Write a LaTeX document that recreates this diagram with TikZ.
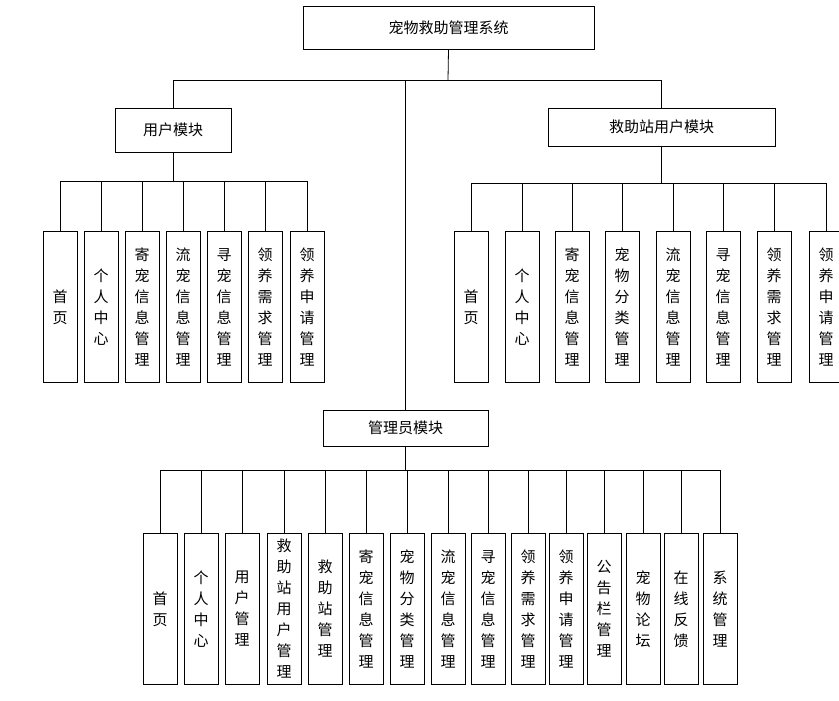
\documentclass[tikz,border=0pt]{standalone}
\usepackage{fontspec}
\newfontfamily\cjk{Noto Sans CJK SC}
\begin{document}
\begin{tikzpicture}[x=1pt,y=-1pt,line width=0.8pt,
  hbox/.style={draw,font=\cjk\fontsize{15}{18}\selectfont,inner sep=0pt},
  vbox/.style={draw,font=\cjk\fontsize{15}{21}\selectfont,minimum width=34pt,minimum height=151pt,inner sep=0pt,align=center,anchor=north}]
\useasboundingbox (0,0) rectangle (839,701);
\node[hbox,minimum width=291pt,minimum height=43pt] (top) at (448.5,27.5) {宠物救助管理系统};
\node[hbox,minimum width=116pt,minimum height=44pt] (um) at (173,130) {用户模块};
\node[hbox,minimum width=227pt,minimum height=38pt] (rm) at (661.5,127) {救助站用户模块};
\node[hbox,minimum width=165pt,minimum height=36pt] (am) at (405.5,428) {管理员模块};
\coordinate (b0) at (448,80);
\draw (top.south) -- (b0);
\draw (um.north) -- (um.north|-b0) -- (rm.north|-b0) -- (rm.north);
\draw (am.north|-b0) -- (am.north);
% user module
\coordinate (bu) at (0,181);
\foreach \x/\t [count=\i] in {60/首\\页,101/个\\人\\中\\心,142/寄\\宠\\信\\息\\管\\理,183/流\\宠\\信\\息\\管\\理,224/寻\\宠\\信\\息\\管\\理,265/领\\养\\需\\求\\管\\理,307/领\\养\\申\\请\\管\\理}{
  \node[vbox] (u\i) at (\x,231) {\t};
  \draw (u\i.north) -- (u\i.north|-bu);
}
\draw (u1.north|-bu) -- (u7.north|-bu);
\draw (um.south) -- (um.south|-bu);
% rescue station module
\coordinate (br) at (0,183);
\foreach \x/\t [count=\i] in {471/首\\页,522/个\\人\\中\\心,572/寄\\宠\\信\\息\\管\\理,622/宠\\物\\分\\类\\管\\理,673/流\\宠\\信\\息\\管\\理,723/寻\\宠\\信\\息\\管\\理,774/领\\养\\需\\求\\管\\理,826/领\\养\\申\\请\\管\\理}{
  \node[vbox] (r\i) at (\x,231) {\t};
  \draw (r\i.north) -- (r\i.north|-br);
}
\draw (r1.north|-br) -- (r8.north|-br);
\draw (rm.south) -- (rm.south|-br);
% admin module
\coordinate (ba) at (0,470);
\foreach \x/\t [count=\i] in {160/首\\页,201/个\\人\\中\\心,242/用\\户\\管\\理,284/救\\助\\站\\用\\户\\管\\理,325/救\\助\\站\\管\\理,366/寄\\宠\\信\\息\\管\\理,407/宠\\物\\分\\类\\管\\理,448/流\\宠\\信\\息\\管\\理,488/寻\\宠\\信\\息\\管\\理,528/领\\养\\需\\求\\管\\理,566/领\\养\\申\\请\\管\\理,604/公\\告\\栏\\管\\理,643/宠\\物\\论\\坛,681/在\\线\\反\\馈,720/系\\统\\管\\理}{
  \node[vbox] (a\i) at (\x,533) {\t};
  \draw (a\i.north) -- (a\i.north|-ba);
}
\draw (a1.north|-ba) -- (a15.north|-ba);
\draw (am.south) -- (am.south|-ba);
\end{tikzpicture}
\end{document}
